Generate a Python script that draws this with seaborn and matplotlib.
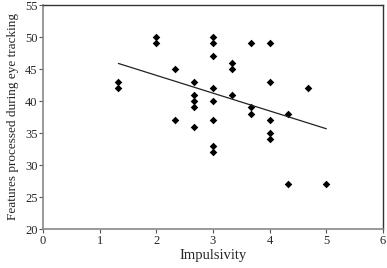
import matplotlib
matplotlib.use('Agg')
import matplotlib.pyplot as plt
import seaborn as sns
import pandas as pd

# impulsivity scores and features processed
impulsivity = [1.33, 1.33,
               2, 2,
               2.33, 2.33,
               2.67, 2.67, 2.67, 2.67, 2.67,
               3, 3, 3, 3, 3, 3, 3, 3,
               3.33, 3.33, 3.33,
               3.67, 3.67, 3.67,
               4, 4, 4, 4, 4,
               4.33, 4.33,
               4.67,
               5]
features = [43, 42,
            50, 49,
            45, 37,
            43, 41, 40, 39, 36,
            50, 49, 47, 42, 40, 37, 33, 32,
            46, 45, 41,
            49, 39, 38,
            49, 43, 37, 35, 34,
            38, 27,
            42,
            27]

df = pd.DataFrame({'Impulsivity': impulsivity, 'Features': features})

sns.set_style('white')
plt.rcParams['font.family'] = ['Liberation Serif', 'DejaVu Serif']

fig = plt.figure(figsize=(3.87, 2.68), dpi=100)
ax = fig.add_axes([43 / 387, 1 - 229 / 268, 340 / 387, 224 / 268])

sns.regplot(data=df, x='Impulsivity', y='Features', ci=None, ax=ax,
            marker='D', color='black',
            scatter_kws={'s': 15, 'linewidths': 0, 'alpha': 1},
            line_kws={'linewidth': 0.9, 'color': '#222222'})

ax.set_xlim(0, 6)
ax.set_ylim(20, 55)
ax.set_xticks(range(0, 7))
ax.set_yticks(range(20, 56, 5))
ax.tick_params(axis='both', direction='out', length=3, width=0.8,
               labelsize=9, pad=1, left=True, bottom=True, color='#555555')
ax.set_xlabel('Impulsivity', fontsize=10.5, labelpad=2)
ax.set_ylabel('Features processed during eye tracking', fontsize=9.5, labelpad=4)
for side in ['left', 'bottom']:
    ax.spines[side].set_color('#888888')
    ax.spines[side].set_linewidth(1.2)
for side in ['top', 'right']:
    ax.spines[side].set_color('#333333')
    ax.spines[side].set_linewidth(1.0)

fig.savefig('out.png', dpi=100)
